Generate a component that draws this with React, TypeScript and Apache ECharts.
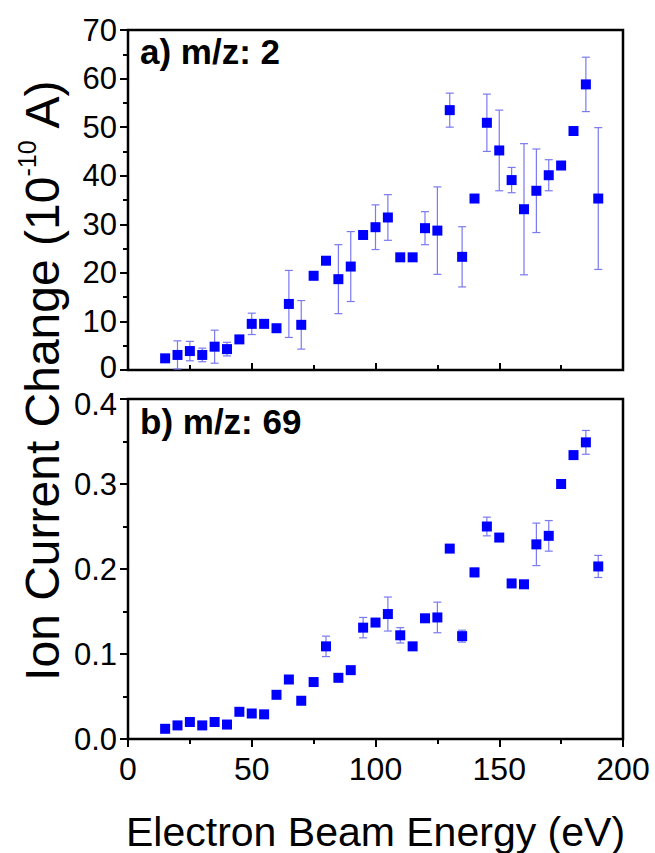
import React, { useEffect, useRef } from 'react';
import * as echarts from 'echarts';

const energies = [15, 20, 25, 30, 35, 40, 45, 50, 55, 60, 65, 70, 75, 80, 85, 90, 95, 100, 105, 110, 115, 120, 125, 130, 135, 140, 145, 150, 155, 160, 165, 170, 175, 180, 185, 190];

const mz2Values = [2.4, 3.1, 3.9, 3.1, 4.8, 4.3, 6.3, 9.5, 9.5, 8.6, 13.6, 9.3, 19.4, 22.5, 18.7, 21.3, 27.8, 29.4, 31.4, 23.2, 23.2, 29.2, 28.7, 53.5, 23.3, 35.3, 50.9, 45.2, 39.1, 33.1, 36.9, 40.1, 42.1, 49.2, 58.8, 35.3];
const mz2Errors = [0, 2.9, 2.0, 1.4, 3.4, 1.4, 0, 2.2, 0, 0, 6.9, 5.0, 0.8, 0, 7.1, 7.2, 0, 4.6, 4.7, 0, 0, 3.4, 9.0, 3.5, 6.2, 0, 5.9, 8.3, 2.6, 13.5, 8.6, 3.2, 0, 0, 5.6, 14.6];

const mz69Values = [0.012, 0.016, 0.020, 0.016, 0.020, 0.017, 0.032, 0.030, 0.029, 0.052, 0.070, 0.045, 0.067, 0.109, 0.072, 0.081, 0.131, 0.137, 0.147, 0.122, 0.109, 0.142, 0.143, 0.224, 0.121, 0.196, 0.250, 0.237, 0.183, 0.182, 0.229, 0.239, 0.300, 0.334, 0.349, 0.203];
const mz69Errors = [0, 0, 0, 0, 0, 0, 0, 0, 0, 0, 0, 0, 0, 0.012, 0, 0, 0.012, 0, 0.02, 0.009, 0, 0, 0.018, 0, 0.007, 0.005, 0.011, 0, 0, 0, 0.025, 0.018, 0, 0, 0.014, 0.013];

const xMin = 0, xMax = 200, xStep = 50;
const yTopMin = 0, yTopMax = 70, yTopStep = 10;
const yBotMin = 0, yBotMax = 0.4, yBotStep = 0.1;

const FONT = '"Liberation Sans", Arial, sans-serif';

function errorBars(axisIndex: number, vals: number[], errs: number[]) {
  const data = energies
    .map((e, i) => [e, vals[i] - errs[i], vals[i] + errs[i]])
    .filter((_, i) => errs[i] > 0);
  return {
    type: 'custom',
    xAxisIndex: axisIndex,
    yAxisIndex: axisIndex,
    data,
    z: 1,
    clip: false,
    encode: { x: 0, y: [1, 2] },
    renderItem: (params: any, api: any) => {
      const x = api.value(0);
      const lo = api.coord([x, api.value(1)]);
      const hi = api.coord([x, api.value(2)]);
      const w = 4;
      const style = { stroke: '#7a7af0', lineWidth: 1.2 };
      return {
        type: 'group',
        children: [
          { type: 'line', shape: { x1: lo[0], y1: lo[1], x2: hi[0], y2: hi[1] }, style },
          { type: 'line', shape: { x1: lo[0] - w, y1: lo[1], x2: lo[0] + w, y2: lo[1] }, style },
          { type: 'line', shape: { x1: hi[0] - w, y1: hi[1], x2: hi[0] + w, y2: hi[1] }, style },
        ],
      };
    },
  };
}

function scatter(axisIndex: number, vals: number[]) {
  return {
    type: 'scatter',
    xAxisIndex: axisIndex,
    yAxisIndex: axisIndex,
    symbol: 'rect',
    symbolSize: 10,
    itemStyle: { color: '#0000ff', opacity: 1 },
    z: 3,
    data: energies.map((e, i) => [e, vals[i]]),
  };
}

const axisLine = { show: true, onZero: false, lineStyle: { color: '#000', width: 2 } };
const tickLabel = { show: true, fontSize: 31, color: '#000', fontFamily: FONT };

export default function App() {
  const ref = useRef<HTMLDivElement>(null);
  useEffect(() => {
    document.body.style.margin = '0';
    const chart = echarts.init(ref.current!, undefined, { renderer: 'svg' });
    chart.setOption({
      animation: false,
      backgroundColor: '#fff',
      grid: [
        { left: 128, top: 30, width: 495, height: 340, show: true, borderColor: '#000', borderWidth: 2.5, backgroundColor: 'transparent' },
        { left: 128, top: 399, width: 495, height: 341, show: true, borderColor: '#000', borderWidth: 2.5, backgroundColor: 'transparent' },
      ],
      xAxis: [
        {
          type: 'value', gridIndex: 0, min: xMin, max: xMax, interval: xStep,
          axisLine, splitLine: { show: false },
          axisTick: { show: true, inside: true, length: 7, lineStyle: { color: '#000', width: 2 } },
          minorTick: { show: true, splitNumber: 2, length: 5, lineStyle: { color: '#000', width: 2 } },
          axisLabel: { show: false },
        },
        {
          type: 'value', gridIndex: 1, min: xMin, max: xMax, interval: xStep,
          axisLine, splitLine: { show: false },
          axisTick: { show: true, inside: false, length: 8, lineStyle: { color: '#000', width: 2 } },
          minorTick: { show: true, splitNumber: 2, length: 5, lineStyle: { color: '#000', width: 2 } },
          axisLabel: { ...tickLabel, fontSize: 32, margin: 14 },
          name: 'Electron Beam Energy (eV)',
          nameLocation: 'middle',
          nameGap: 72,
          nameTextStyle: { fontSize: 41, color: '#000', fontFamily: FONT },
        },
      ],
      yAxis: [
        {
          type: 'value', gridIndex: 0, min: yTopMin, max: yTopMax, interval: yTopStep,
          axisLine, splitLine: { show: false },
          axisTick: { show: true, inside: false, length: 8, lineStyle: { color: '#000', width: 2 } },
          minorTick: { show: true, splitNumber: 2, length: 5, lineStyle: { color: '#000', width: 2 } },
          axisLabel: {
            ...tickLabel, margin: 11, lineHeight: 24,
            formatter: (v: number) => (v === 0 ? '{lo|0}' : String(v)),
            rich: { lo: { fontSize: 31, fontFamily: FONT, color: '#000', lineHeight: 22, padding: [0, 0, 6, 0] } },
          },
        },
        {
          type: 'value', gridIndex: 1, min: yBotMin, max: yBotMax, interval: yBotStep,
          axisLine, splitLine: { show: false },
          axisTick: { show: true, inside: false, length: 8, lineStyle: { color: '#000', width: 2 } },
          minorTick: { show: true, splitNumber: 2, length: 5, lineStyle: { color: '#000', width: 2 } },
          axisLabel: {
            ...tickLabel, margin: 11, lineHeight: 24,
            formatter: (v: number) => (Math.abs(v - 0.4) < 1e-9 ? '{hi|0.4}' : v.toFixed(1)),
            rich: { hi: { fontSize: 31, fontFamily: FONT, color: '#000', lineHeight: 22, padding: [10, 0, 0, 0] } },
          },
        },
      ],
      graphic: [
        {
          type: 'text', left: 140, top: 34, z: 10,
          style: { text: 'a) m/z: 2', font: `bold 35px ${FONT}`, fill: '#000' },
        },
        {
          type: 'text', left: 140, top: 404, z: 10,
          style: { text: 'b) m/z: 69', font: `bold 35px ${FONT}`, fill: '#000' },
        },
        {
          type: 'text', x: 40, y: 380, rotation: Math.PI / 2, z: 10,
          style: {
            text: '{n|Ion Current Change (10}{s|-10}{n| A)}',
            align: 'center', verticalAlign: 'middle',
            rich: {
              n: { fontSize: 48, fontFamily: FONT, fill: '#000', lineHeight: 52, verticalAlign: 'bottom' },
              s: { fontSize: 25, fontFamily: FONT, fill: '#000', lineHeight: 52, verticalAlign: 'top' },
            },
          },
        },
      ],
      series: [
        errorBars(0, mz2Values, mz2Errors),
        scatter(0, mz2Values),
        errorBars(1, mz69Values, mz69Errors),
        scatter(1, mz69Values),
      ],
    });
    return () => chart.dispose();
  }, []);
  return <div ref={ref} style={{ width: 655, height: 853 }} />;
}
